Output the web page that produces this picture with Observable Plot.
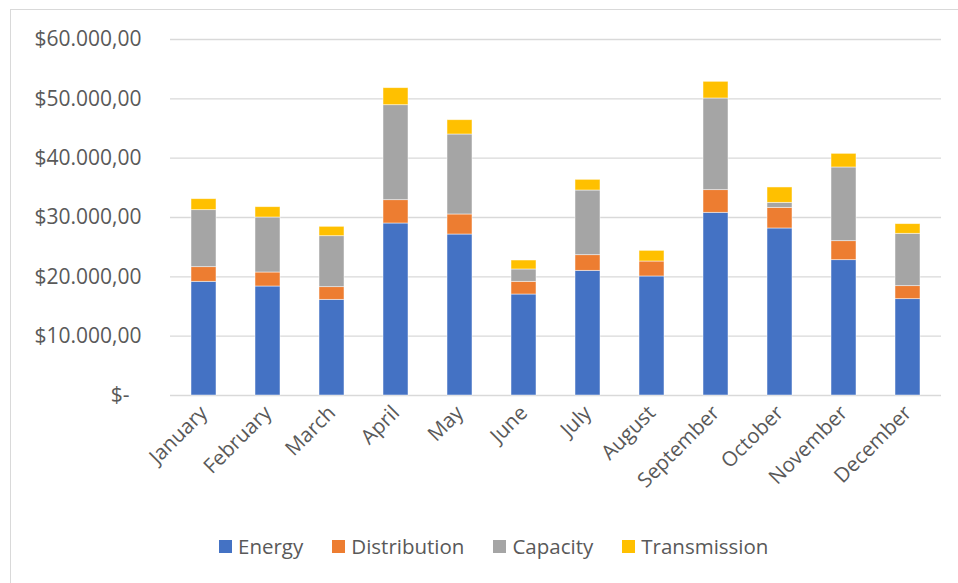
<!DOCTYPE html>
<html>
<head>
<meta charset="utf-8">
<script src="https://cdn.jsdelivr.net/npm/d3@7"></script>
<script src="https://cdn.jsdelivr.net/npm/@observablehq/plot@0.6"></script>
<style>
  body { margin: 0; background: #fff; font-family: "Open Sans", sans-serif; }
  #frame { position: absolute; left: 10px; top: 9px; width: 990px; height: 600px;
           border: 1.5px solid #d9d9d9; box-sizing: border-box; }
  #chart { position: absolute; left: 0; top: 0; }
  #legend { position: absolute; left: 219px; top: 532px; display: flex; align-items: center;
            gap: 29px; font-size: 20.5px; color: #595959; }
  .item { display: flex; align-items: center; gap: 6px; }
  .swatch { width: 13px; height: 13px; display: inline-block; }
</style>
</head>
<body>
<div id="frame"></div>
<div id="chart"></div>
<div id="legend"></div>
<script>
// Monthly cost components
const months = ["January", "February", "March", "April", "May", "June",
                "July", "August", "September", "October", "November", "December"];
const energy       = [19160, 18370, 16120, 28990, 27130, 17020, 21010, 20060, 30790, 28150, 22810, 16240];
const distribution = [2470, 2360, 2140, 3930, 3380, 2140, 2640, 2520, 3820, 3480, 3200, 2190];
const capacity     = [9610, 9270, 8590, 16010, 13480, 2080, 10900, 0, 15450, 840, 12420, 8820];
const transmission = [1850, 1740, 1580, 2870, 2410, 1510, 1800, 1800, 2810, 2590, 2300, 1630];

const seriesNames = ["Energy", "Distribution", "Capacity", "Transmission"];
const seriesColors = ["#4472C4", "#ED7D31", "#A5A5A5", "#FFC000"];
const yTicks = [0, 10000, 20000, 30000, 40000, 50000, 60000];

const seriesValues = [energy, distribution, capacity, transmission];
const rows = [];
seriesNames.forEach((name, s) => {
  months.forEach((m, i) => rows.push({month: m, series: name, value: seriesValues[s][i]}));
});

// "$60.000,00" style accounting labels, with "$-" for zero
const fmtMoney = v => v === 0 ? "$-\u2007" :
  "$" + d3.format(",")(v).replace(/,/g, ".") + ",00";

const chart = Plot.plot({
  width: 958,
  height: 510,
  marginLeft: 170,
  marginRight: 17,
  marginTop: 39,
  marginBottom: 115,
  style: { fontFamily: "Open Sans, sans-serif", fontSize: "21px", color: "#595959", background: "transparent" },
  x: { domain: months, paddingInner: 0.61, paddingOuter: 0.305, label: null },
  y: { domain: [0, 60000], label: null },
  color: { domain: seriesNames, range: seriesColors },
  marks: [
    Plot.ruleY(yTicks, { stroke: "#d9d9d9", strokeWidth: 1.4 }),
    Plot.barY(rows, Plot.stackY({
      x: "month", y: "value", fill: "series", order: seriesNames,
      stroke: "#ffffff", strokeWidth: 0.8, strokeOpacity: 0.6
    })),
    Plot.axisY({ ticks: yTicks, tickFormat: fmtMoney, tickSize: 0, tickPadding: 29,
                 fill: "#595959", fontSize: 21, label: null }),
    Plot.axisX({ tickSize: 0, tickPadding: 14, tickRotate: -45, fill: "#595959",
                 fontSize: 20.5, label: null })
  ]
});
document.getElementById("chart").append(chart);

const legend = document.getElementById("legend");
seriesNames.forEach((name, i) => {
  const item = document.createElement("div");
  item.className = "item";
  const sw = document.createElement("span");
  sw.className = "swatch";
  sw.style.background = seriesColors[i];
  const label = document.createElement("span");
  label.textContent = name;
  item.append(sw, label);
  legend.append(item);
});
</script>
</body>
</html>
